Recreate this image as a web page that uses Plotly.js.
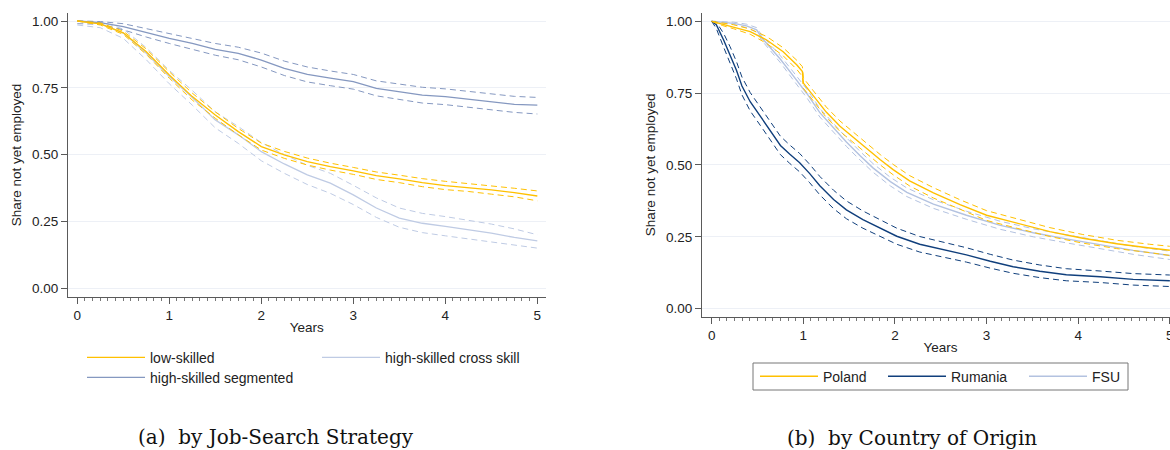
<!DOCTYPE html>
<html><head><meta charset="utf-8">
<script src="https://cdn.plot.ly/plotly-3.0.1.min.js"></script>
<style>html,body{margin:0;padding:0;overflow:hidden;background:#fff}#chart{width:1180px;height:450px}</style>
</head><body><div id="chart"></div>
<script>
// ---------- Panel (a): by Job-Search Strategy ----------
var tA = [0, 0.25, 0.5, 0.75, 1, 1.25, 1.5, 1.75, 2, 2.25, 2.5, 2.75, 3, 3.25, 3.5, 3.75, 4, 4.25, 4.5, 4.75, 5];
var lowEst = [1.0, .989, .956, .885, .798, .717, .648, .586, .530, .499, .474, .455, .439, .421, .409, .395, .384, .377, .368, .358, .345];
var lowHi  = [1.0, .993, .962, .895, .810, .730, .660, .598, .543, .512, .487, .468, .452, .435, .423, .410, .400, .392, .384, .374, .364];
var lowLo  = [1.0, .985, .950, .875, .786, .704, .636, .574, .517, .486, .461, .442, .426, .407, .395, .380, .369, .362, .352, .342, .327];
var segEst = [1.0, .994, .979, .956, .935, .916, .894, .879, .854, .823, .800, .786, .773, .748, .736, .723, .717, .707, .696, .688, .685];
var segHi  = [1.0, .998, .990, .972, .953, .936, .916, .902, .880, .850, .828, .813, .800, .776, .764, .752, .746, .736, .726, .718, .714];
var segLo  = [.990, .988, .967, .940, .916, .895, .872, .855, .828, .796, .772, .758, .745, .720, .706, .693, .687, .677, .666, .658, .652];
var crsEst = [1.0, .990, .955, .879, .792, .714, .630, .574, .511, .465, .424, .393, .349, .300, .262, .243, .231, .218, .206, .190, .177];
var crsHi  = [1.0, .998, .970, .900, .815, .740, .660, .605, .545, .500, .460, .430, .385, .338, .300, .280, .268, .253, .240, .222, .200];
var crsLo  = [.985, .975, .935, .855, .765, .685, .600, .542, .477, .430, .388, .355, .313, .265, .228, .208, .196, .184, .172, .160, .150];

// ---------- Panel (b): by Country of Origin ----------
var tP   = [0, .12, .24, .42, .6, .78, .93, .99, 1.0, 1.11, 1.25, 1.4, 1.55, 1.69, 1.84, 1.98, 2.16, 2.42, 2.71, 3.0, 3.33, 3.69, 4.05, 4.42, 4.78, 5.0];
var polEst = [1.0, .990, .981, .964, .935, .894, .848, .825, .785, .740, .684, .635, .594, .558, .518, .484, .445, .403, .362, .325, .298, .268, .245, .226, .211, .203];
var polHi  = [1.0, .995, .988, .973, .947, .908, .864, .842, .803, .758, .702, .653, .612, .576, .536, .502, .463, .421, .379, .341, .313, .282, .258, .238, .224, .217];
var polLo  = [1.0, .985, .974, .955, .923, .880, .832, .808, .767, .722, .666, .617, .576, .540, .500, .466, .427, .385, .345, .307, .280, .251, .228, .209, .195, .185];
var tR   = [0, .05, .13, .2, .27, .33, .42, .53, .64, .75, .85, .96, 1.07, 1.18, 1.33, 1.47, 1.65, 1.84, 2.02, 2.27, 2.53, 2.78, 3.04, 3.29, 3.58, 3.87, 4.24, 4.6, 5.0];
var rumEst = [1.0, .988, .935, .885, .830, .775, .720, .670, .618, .568, .538, .508, .470, .428, .380, .344, .310, .280, .252, .224, .205, .187, .165, .146, .130, .118, .111, .102, .097];
var rumHi  = [1.0, .997, .958, .912, .860, .806, .752, .702, .650, .600, .570, .540, .502, .460, .412, .375, .340, .309, .280, .251, .231, .212, .189, .169, .152, .139, .131, .122, .117];
var rumLo  = [1.0, .975, .910, .857, .800, .744, .688, .638, .586, .536, .506, .476, .438, .396, .348, .313, .280, .251, .224, .197, .179, .162, .141, .123, .108, .097, .091, .082, .077];
var tF   = [0, .24, .38, .49, .55, .6, .75, .89, 1.04, 1.18, 1.33, 1.47, 1.62, 1.76, 1.95, 2.13, 2.42, 2.78, 3.15, 3.51, 3.87, 4.24, 4.6, 5.0];
var fsuEst = [1.0, .993, .984, .970, .941, .923, .868, .810, .748, .682, .630, .580, .532, .490, .442, .405, .364, .325, .290, .264, .243, .222, .203, .185];
var fsuHi  = [1.0, .997, .990, .978, .950, .933, .880, .824, .763, .697, .645, .595, .547, .505, .457, .420, .379, .339, .304, .278, .257, .236, .217, .200];
var fsuLo  = [1.0, .989, .978, .962, .932, .913, .856, .796, .733, .667, .615, .565, .517, .475, .427, .390, .349, .311, .276, .250, .229, .208, .189, .171];

// ---------- ticks & labels ----------
var xTickVals = [0, 1, 2, 3, 4, 5];
var xTickText = ['0', '1', '2', '3', '4', '5'];
var yTickVals = [0, 0.25, 0.5, 0.75, 1];
var yTickText = ['0.00', '0.25', '0.50', '0.75', '1.00'];
var namesA = ['low-skilled', 'high-skilled cross skill', 'high-skilled segmented'];
var namesB = ['Poland', 'Rumania', 'FSU'];
var captionA = '(a)  by Job-Search Strategy';
var captionB = '(b)  by Country of Origin';

var GOLD = '#ffc000', SEG = '#8598c0', CRS = '#bfcbe4', NAVY = '#103f7c', FSU = '#b3c2e0';
var DASH = '6px,4px';

function tr(x, y, color, w, dash, xa, ya, name, show, leg) {
  return {type: 'scatter', mode: 'lines', x: x, y: y, xaxis: xa, yaxis: ya,
    line: {color: color, width: w, dash: dash}, name: name || '', showlegend: !!show,
    legend: leg || 'legend', hoverinfo: 'skip'};
}

var data = [
  // panel a
  tr(tA, crsHi, CRS, 1, DASH, 'x', 'y'),
  tr(tA, crsLo, CRS, 1, DASH, 'x', 'y'),
  tr(tA, crsEst, CRS, 1.3, 'solid', 'x', 'y', namesA[1], true, 'legend2'),
  tr(tA, segHi, SEG, 1, DASH, 'x', 'y'),
  tr(tA, segLo, SEG, 1, DASH, 'x', 'y'),
  tr(tA, segEst, SEG, 1.3, 'solid', 'x', 'y', namesA[2], true, 'legend3'),
  tr(tA, lowHi, GOLD, 1, DASH, 'x', 'y'),
  tr(tA, lowLo, GOLD, 1, DASH, 'x', 'y'),
  tr(tA, lowEst, GOLD, 1.3, 'solid', 'x', 'y', namesA[0], true, 'legend'),
  // panel b
  tr(tF, fsuHi, FSU, 1, DASH, 'x2', 'y2'),
  tr(tF, fsuLo, FSU, 1, DASH, 'x2', 'y2'),
  tr(tF, fsuEst, FSU, 1.4, 'solid', 'x2', 'y2', namesB[2], true, 'legend6'),
  tr(tR, rumHi, NAVY, 1, DASH, 'x2', 'y2'),
  tr(tR, rumLo, NAVY, 1, DASH, 'x2', 'y2'),
  tr(tR, rumEst, NAVY, 1.4, 'solid', 'x2', 'y2', namesB[1], true, 'legend5'),
  tr(tP, polHi, GOLD, 1, DASH, 'x2', 'y2'),
  tr(tP, polLo, GOLD, 1, DASH, 'x2', 'y2'),
  tr(tP, polEst, GOLD, 1.4, 'solid', 'x2', 'y2', namesB[0], true, 'legend4')
];

var minorVals = [];
for (var m = 1; m < 60; m++) { if (m % 12 !== 0) minorVals.push(m / 12); }

var AX = '#5a5a5a';
function xax(domain, range, anchor) {
  return {domain: domain, range: range, anchor: anchor, tickmode: 'array', tickvals: xTickVals, ticktext: xTickText,
    ticks: 'outside', ticklen: 6, tickwidth: 1, tickcolor: AX, showline: true, linecolor: AX, linewidth: 1,
    showgrid: false, zeroline: false, fixedrange: true,
    minor: {tickmode: 'array', tickvals: minorVals, ticks: 'outside', ticklen: 3, tickwidth: 1, tickcolor: '#777', showgrid: false},
    title: {text: 'Years', standoff: 0, font: {size: 13.5}}};
}
function yax(domain, range, anchor) {
  return {domain: domain, range: range, anchor: anchor, tickmode: 'array', tickvals: yTickVals, ticktext: yTickText,
    ticks: 'outside', ticklen: 6, tickwidth: 1, tickcolor: AX, showline: true, linecolor: AX, linewidth: 1,
    showgrid: true, gridcolor: '#edf0f6', gridwidth: 1, zeroline: false, fixedrange: true,
    title: {text: 'Share not yet employed', standoff: 7, font: {size: 13.5}}};
}
function leg(xpx, ypx) {
  return {orientation: 'h', x: xpx / 1180, y: (450 - ypx) / 450, xanchor: 'left', yanchor: 'middle', bgcolor: 'rgba(0,0,0,0)',
    borderwidth: 0, itemwidth: 58, font: {size: 14, color: '#222'}, itemclick: false, itemdoubleclick: false};
}

var layout = {
  width: 1180, height: 450,
  margin: {l: 0, r: 0, t: 0, b: 0},
  paper_bgcolor: '#fff', plot_bgcolor: '#fff',
  font: {family: 'Liberation Sans, Arial, sans-serif', size: 13.5, color: '#222'},
  xaxis: xax([68 / 1180, 545.7 / 1180], [-0.101, 5.091], 'y'),
  yaxis: yax([0.34, 0.9711], [-0.033, 1.03], 'x'),
  xaxis2: xax([702 / 1180, 1179 / 1180], [-0.106, 5.1], 'y2'),
  yaxis2: yax([0.2956, 0.9718], [-0.029, 1.03], 'x2'),
  showlegend: true,
  legend: leg(82, 357.7),
  legend2: leg(317, 357.7),
  legend3: leg(82, 377.7),
  legend4: leg(755, 376.7),
  legend5: leg(883, 376.7),
  legend6: leg(1024, 376.7),
  shapes: [
    {type: 'rect', xref: 'paper', yref: 'paper', x0: 753 / 1180, x1: 1128 / 1180, y0: (450 - 390) / 450, y1: (450 - 363) / 450,
     line: {color: '#777', width: 1}, fillcolor: 'rgba(0,0,0,0)', layer: 'above'}
  ],
  annotations: [
    {text: captionA, xref: 'paper', yref: 'paper', x: 276 / 1180, y: (450 - 437) / 450, xanchor: 'center', yanchor: 'middle',
     showarrow: false, font: {family: 'DejaVu Serif, serif', size: 20, color: '#111'}},
    {text: captionB, xref: 'paper', yref: 'paper', x: 912 / 1180, y: (450 - 438) / 450, xanchor: 'center', yanchor: 'middle',
     showarrow: false, font: {family: 'DejaVu Serif, serif', size: 20, color: '#111'}}
  ]
};

Plotly.newPlot('chart', data, layout, {staticPlot: true, displayModeBar: false});
</script></body></html>
